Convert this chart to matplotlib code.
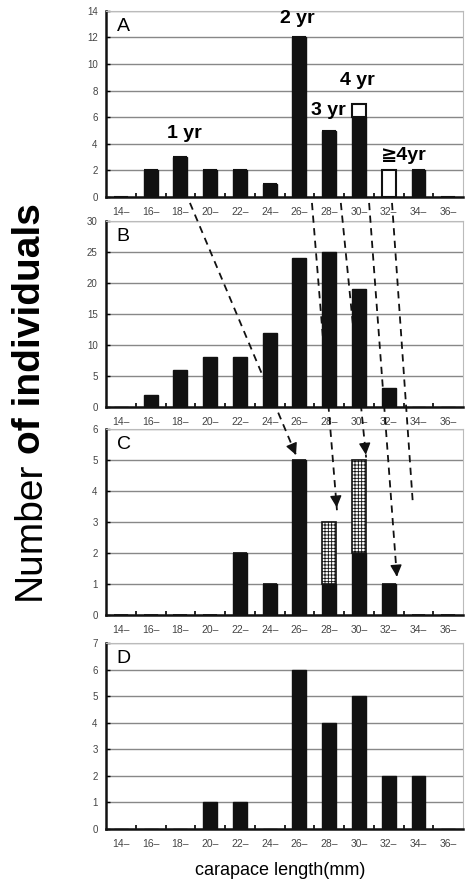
import matplotlib.pyplot as plt
from matplotlib.lines import Line2D
from matplotlib.patches import FancyArrowPatch
import numpy as np

plt.rcParams['font.family'] = ['Liberation Sans', 'DejaVu Sans']
plt.rcParams['hatch.linewidth'] = 0.6

# carapace length classes (mm)
size_classes = ['14–', '16–', '18–', '20–', '22–', '24–', '26–', '28–', '30–', '32–', '34–', '36–']

# panel A
a_black = [0, 2, 3, 2, 2, 1, 12, 5, 6, 0, 2, 0]
a_open = [0, 0, 0, 0, 0, 0, 0, 0, 1, 2, 0, 0]
# panel B
b_counts = [0, 2, 6, 8, 8, 12, 24, 25, 19, 3, 0, 0]
# panel C
c_black = [0, 0, 0, 0, 2, 1, 5, 1, 2, 1, 0, 0]
c_hatch = [0, 0, 0, 0, 0, 0, 0, 2, 3, 0, 0, 0]
# panel D
d_counts = [0, 0, 0, 1, 1, 0, 6, 4, 5, 2, 2, 0]

ylims = {'A': (14, 2), 'B': (30, 5), 'C': (6, 1), 'D': (7, 1)}

fig = plt.figure(figsize=(4.65, 8.88), dpi=100)
left = 0.228
width = 0.768
height = 0.2095
bottoms = {'A': 0.7782, 'B': 0.5417, 'C': 0.3074, 'D': 0.0664}

x = np.arange(len(size_classes))
bw = 0.47
axes = {}
for key in ['A', 'B', 'C', 'D']:
    ax = fig.add_axes([left, bottoms[key], width, height])
    top, step = ylims[key]
    ax.set_xlim(-0.5, len(size_classes) - 0.5)
    ax.set_ylim(0, top)
    ax.set_yticks(np.arange(0, top + 0.1, step))
    ax.set_xticks(x)
    ax.set_xticklabels(size_classes)
    ax.set_xticks(np.arange(0.5, len(size_classes) - 1, 1), minor=True)
    ax.tick_params(axis='x', which='major', length=0, pad=7, labelsize=7.5, labelcolor='#444444')
    ax.tick_params(axis='x', which='minor', direction='in', length=3, width=1.2)
    ax.tick_params(axis='y', direction='in', length=3, width=1.0, pad=6, labelsize=7, labelcolor='#444444')
    ax.yaxis.grid(True, color='#888888', linewidth=1.0, zorder=0)
    ax.set_axisbelow(True)
    for s in ['left', 'bottom']:
        ax.spines[s].set_linewidth(1.8)
        ax.spines[s].set_color('#111111')
    for s in ['top', 'right']:
        ax.spines[s].set_linewidth(0.8)
        ax.spines[s].set_color('#bbbbbb')
    ax.text(0.03, 0.96, key, transform=ax.transAxes, ha='left', va='top', fontsize=14)
    axes[key] = ax

axA, axB, axC, axD = axes['A'], axes['B'], axes['C'], axes['D']

axA.bar(x, a_black, bw, color='#111111', edgecolor='#111111', zorder=3)
axA.bar(x, a_open, bw, bottom=a_black, color='white', edgecolor='#111111', linewidth=1.5, zorder=3)
axB.bar(x, b_counts, bw, color='#111111', edgecolor='#111111', zorder=3)
axC.bar(x, c_black, bw, color='#111111', edgecolor='#111111', zorder=3)
axC.bar(x, c_hatch, bw, bottom=c_black, color='white', edgecolor='#111111', linewidth=1.2,
        hatch='+++++', zorder=3)
axD.bar(x, d_counts, bw, color='#111111', edgecolor='#111111', zorder=3)

# age class labels in panel A
for txt, xi, yi in [('1 yr', 2.12, 4.8), ('2 yr', 5.93, 13.45), ('3 yr', 6.96, 6.5),
                    ('4 yr', 7.96, 8.8), ('≧4yr', 9.5, 3.15)]:
    axA.text(xi, yi, txt, ha='center', va='center', fontsize=14, fontweight='bold',
             family=['Liberation Sans', 'DejaVu Sans'], zorder=5)

# dashed growth arrows from panel A to panel C
links = [((2.32, -0.45), (5.92, 5.08), True),
         ((6.42, -0.45), (7.26, 3.38), True),
         ((7.39, -0.45), (8.24, 5.08), True),
         ((8.34, -0.45), (9.28, 1.15), True),
         ((9.11, -0.45), (9.81, 3.6), False)]
inv = fig.transFigure.inverted()
for (pa, pb, head) in links:
    p0 = inv.transform(axA.transData.transform(pa))
    p1 = inv.transform(axC.transData.transform(pb))
    fig.add_artist(Line2D([p0[0], p1[0]], [p0[1], p1[1]], transform=fig.transFigure,
                          color='#111111', linewidth=1.3, linestyle=(0, (4, 3)), zorder=6))
    if head:
        d = p1 - p0
        pm = p1 - d * 0.04
        fig.add_artist(FancyArrowPatch(pm, p1, transform=fig.transFigure,
                                       arrowstyle='-|>,head_length=0.7,head_width=0.35',
                                       mutation_scale=10, color='#111111', linewidth=1.0,
                                       zorder=6))

# axis titles
t1 = fig.text(0.065, 1 - 600 / 888, 'Number', rotation=90, ha='center', va='bottom', fontsize=28)
r = fig.canvas.get_renderer()
bb = t1.get_window_extent(r)
fig.text(0.065, (bb.y1 + 8) / fig.bbox.height, 'of individuals', rotation=90, ha='center', va='bottom',
         fontsize=28, fontweight='bold')
fig.text(0.603, 1 - 870 / 888, 'carapace length(mm)', ha='center', va='center', fontsize=13)

fig.savefig('out.png', dpi=100)
